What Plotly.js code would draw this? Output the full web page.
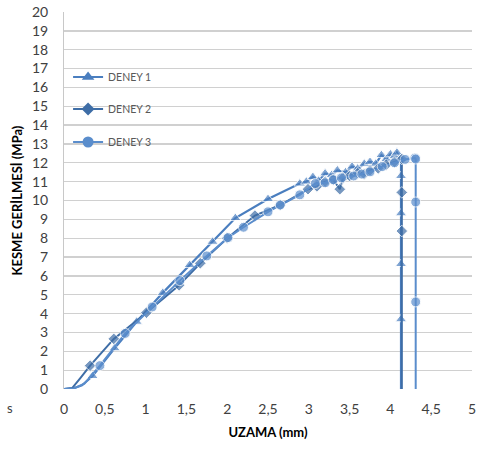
<!DOCTYPE html>
<html><head><meta charset="utf-8">
<script src="https://cdn.plot.ly/plotly-3.0.1.min.js"></script>
<style>html,body{margin:0;padding:0;background:#fff}#chart{width:478px;height:450px}</style>
</head><body><div id="chart"></div>
<script>
const seriesNames = ["DENEY 1", "DENEY 2", "DENEY 3"];
const xTicks = [0, 0.5, 1, 1.5, 2, 2.5, 3, 3.5, 4, 4.5, 5];
const xTickLabels = ["0", "0,5", "1", "1,5", "2", "2,5", "3", "3,5", "4", "4,5", "5"];

const d1x = [0, 0.12, 0.22, 0.35, 0.62, 0.89, 1.21, 1.54, 1.82, 2.1, 2.5, 2.89, 2.97, 3.05, 3.12, 3.2, 3.28, 3.35, 3.45, 3.53, 3.6, 3.68, 3.75, 3.82, 3.89, 3.95, 4.0, 4.05, 4.08, 4.13, 4.13, 4.13, 4.13, 4.13, 4.13];
const d1y = [0, 0.04, 0.2, 0.69, 2.16, 3.57, 5.1, 6.58, 7.81, 9.07, 10.08, 10.9, 11.0, 11.25, 11.05, 11.44, 11.35, 11.6, 11.5, 11.8, 11.7, 11.95, 12.05, 11.95, 12.41, 12.2, 12.45, 12.35, 12.54, 12.2, 11.3, 9.32, 6.63, 3.7, 0];

const d2x = [0, 0.1, 0.2, 0.32, 0.61, 1.01, 1.41, 1.67, 2.0, 2.34, 2.65, 2.99, 3.1, 3.2, 3.3, 3.38, 3.42, 3.5, 3.6, 3.68, 3.75, 3.85, 3.95, 4.05, 4.14, 4.14, 4.14, 4.14];
const d2y = [0, 0.05, 0.58, 1.24, 2.66, 4.05, 5.5, 6.67, 8.0, 9.2, 9.76, 10.6, 10.75, 11.0, 11.1, 10.6, 11.2, 11.3, 11.45, 11.4, 11.6, 11.7, 11.9, 12.05, 12.2, 10.43, 8.38, 0];

const d3x = [0, 0.12, 0.25, 0.44, 0.75, 1.08, 1.42, 1.75, 2.01, 2.2, 2.5, 2.65, 2.89, 3.08, 3.2, 3.3, 3.4, 3.55, 3.65, 3.75, 3.9, 4.05, 4.18, 4.3, 4.31, 4.31, 4.31, 4.31];
const d3y = [0, 0.03, 0.28, 1.24, 2.95, 4.35, 5.75, 7.06, 8.03, 8.58, 9.4, 9.76, 10.3, 10.9, 10.94, 11.1, 11.2, 11.3, 11.4, 11.52, 11.8, 12.0, 12.18, 12.25, 12.2, 9.92, 4.62, 0];

function sizes(xs, ys, s) { return xs.map((v, i) => (v < 0.3 || ys[i] === 0) ? 0 : s); }

const colors = ["#4a7ebf", "#3e6da6", "#5a8dcc"];
const symbols = ["triangle-up", "diamond", "circle"];
const msz = [10, 9, 10];
const lw = [2.2, 2, 2];
const xs = [d1x, d2x, d3x], ys = [d1y, d2y, d3y];
const legendIds = ["legend", "legend2", "legend3"];

const traces = [];
seriesNames.forEach((n, k) => {
  traces.push({
    type: "scatter", mode: "lines+markers", name: n, showlegend: false,
    x: xs[k], y: ys[k],
    line: {color: colors[k], width: lw[k]},
    marker: {symbol: symbols[k], color: colors[k], size: sizes(xs[k], ys[k], msz[k])}
  });
});
seriesNames.forEach((n, k) => {
  traces.push({
    type: "scatter", mode: "lines+markers", name: n, x: [null], y: [null],
    line: {color: colors[k], width: lw[k]},
    marker: {symbol: symbols[k], color: colors[k], size: msz[k] + 1},
    legend: legendIds[k]
  });
});

const legendBase = (yy) => ({x: 0.01, y: yy, xanchor: "left", yanchor: "middle", bgcolor: "rgba(0,0,0,0)",
  font: {family: "Lato, sans-serif", size: 10.5, color: "#595959"}, itemsizing: "trace"});

const layout = {
  width: 478, height: 450,
  margin: {l: 64, r: 6, t: 12, b: 61},
  paper_bgcolor: "#fff", plot_bgcolor: "#fff",
  separators: ", ",
  font: {family: "Lato, sans-serif", color: "#404040"},
  showlegend: true,
  legend: legendBase(1 - (77 - 12) / 377),
  legend2: legendBase(1 - (109 - 12) / 377),
  legend3: legendBase(1 - (142 - 12) / 377),
  xaxis: {range: [0, 5], tickvals: xTicks, ticktext: xTickLabels, showgrid: false, zeroline: false,
    showline: false, ticks: "", tickfont: {size: 14, color: "#404040"}, ticklabelstandoff: 10,
    title: {text: "<b>UZAMA (mm)</b>", font: {size: 13, color: "#000"}, standoff: 11}},
  yaxis: {range: [0, 20], dtick: 1, showgrid: true, gridcolor: "#d0d0d0", gridwidth: 1.3, zeroline: false,
    showline: true, linecolor: "#c8c8c8", linewidth: 1, ticks: "", tickfont: {size: 14, color: "#404040"},
    ticklabelstandoff: 12,
    title: {text: "<b>KESME GERİLMESİ (MPa)</b>", font: {size: 13, color: "#000"}, standoff: 6}},
  annotations: [{text: "s", xref: "paper", yref: "paper", x: -64 / 408 + 5 / 408, y: -21 / 377,
    yshift: -8, showarrow: false, font: {size: 13, color: "#404040"}}]
};

Plotly.newPlot("chart", traces, layout, {displayModeBar: false, staticPlot: true});
</script></body></html>
